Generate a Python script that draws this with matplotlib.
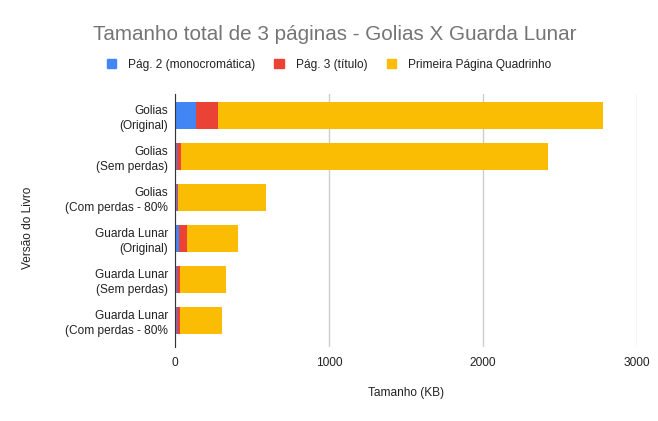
import matplotlib
matplotlib.use("Agg")
import matplotlib.pyplot as plt
from matplotlib.patches import Patch

plt.rcParams['font.family'] = ['Liberation Sans', 'DejaVu Sans']

livros = ["Golias\n(Original)", "Golias\n(Sem perdas)", "Golias\n(Com perdas - 80%",
          "Guarda Lunar\n(Original)", "Guarda Lunar\n(Sem perdas)", "Guarda Lunar\n(Com perdas - 80%"]
pag2 = [133, 14, 12, 27, 10, 10]
pag3 = [143, 22, 3, 48, 19, 19]
primeira = [2506, 2389, 577, 331, 299, 277]
series = ["Pág. 2 (monocromática)", "Pág. 3 (título)", "Primeira Página Quadrinho"]
cores = ["#4285F4", "#EA4335", "#FBBC04"]
xticks = [0, 1000, 2000, 3000]

fig = plt.figure(figsize=(6.58, 4.21), dpi=100)
ax = fig.add_axes([175.3 / 658, 1 - 347 / 421, 461.4 / 658, 253 / 421])

y = list(range(len(livros)))
esq = [0] * len(livros)
for vals, cor in zip([pag2, pag3, primeira], cores):
    ax.barh(y, vals, left=esq, height=0.65, color=cor, zorder=3)
    esq = [a + b for a, b in zip(esq, vals)]

ax.set_xlim(0, 3000)
ax.set_ylim(5.65, -0.52)
ax.set_xticks(xticks)
ax.set_xticklabels([str(t) for t in xticks], fontsize=8.6, color="#222222")
ax.set_yticks(y)
ax.set_yticklabels(livros, fontsize=8.6, color="#222222", linespacing=1.3)
ax.tick_params(length=0, pad=5)
ax.tick_params(axis='x', pad=7)
ax.grid(axis='x', color="#cccccc", linewidth=1, zorder=0)
for s in ["top", "right", "bottom"]:
    ax.spines[s].set_visible(False)
ax.spines["left"].set_color("#333333")
ax.spines["left"].set_zorder(4)

ax.set_xlabel("Tamanho (KB)", fontsize=8.6, color="#222222", labelpad=13)
fig.text(27.7 / 658, 1 - 228 / 421, "Versão do Livro", rotation=90, fontsize=8.6,
         color="#222222", ha="center", va="center")

fig.text(335 / 658, 1 - 34 / 421, "Tamanho total de 3 páginas - Golias X Guarda Lunar",
         fontsize=14.9, color="#757575", ha="center", va="center")

handles = [Patch(color=c, label=s) for c, s in zip(cores, series)]
fig.legend(handles=handles, loc="center", bbox_to_anchor=(329 / 658, 1 - 65 / 421),
           ncol=3, frameon=False, fontsize=8.6, handlelength=0.8, handleheight=0.8,
           handletextpad=1.0, columnspacing=1.6, labelcolor="#222222")

fig.savefig("out.png", dpi=100)
